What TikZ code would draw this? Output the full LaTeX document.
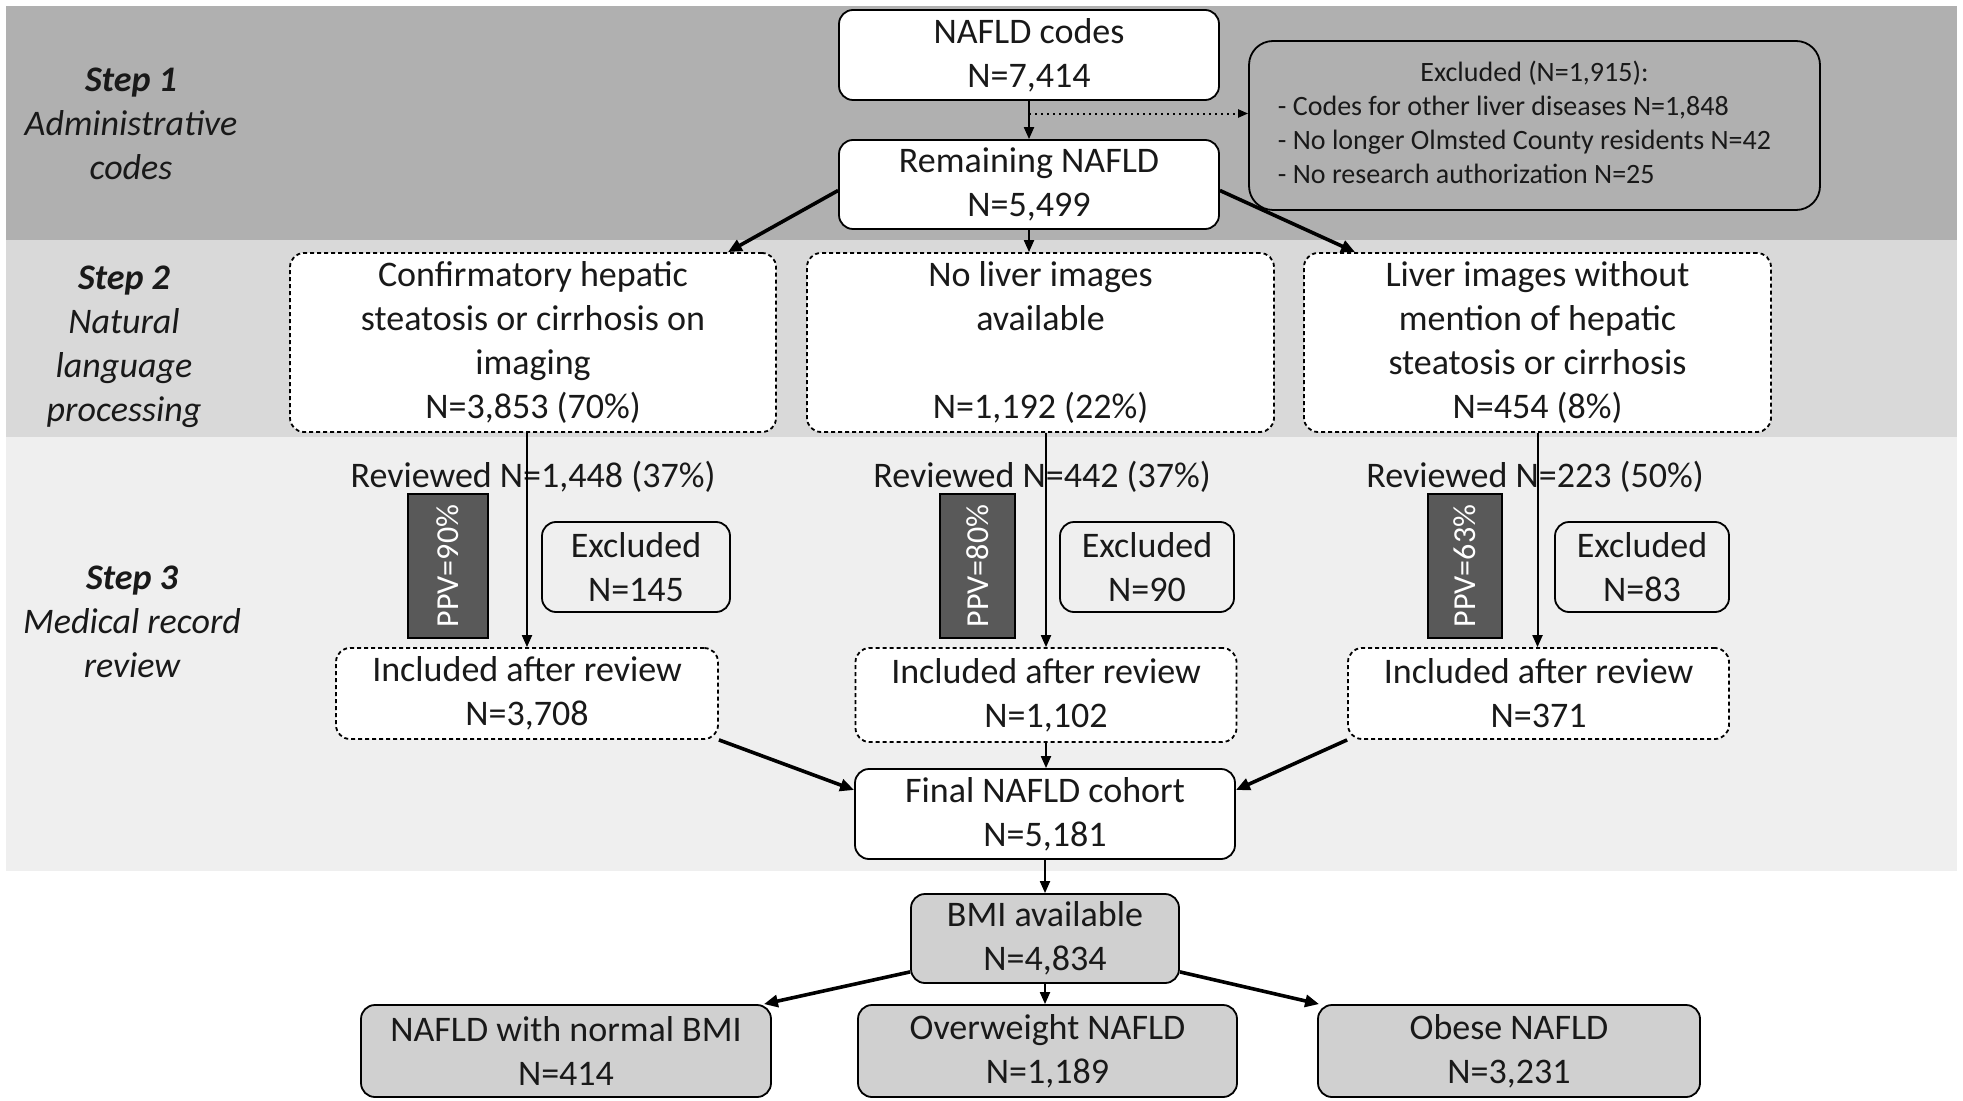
\documentclass[tikz,border=0pt]{standalone}
\usepackage{fontspec}
\setmainfont{Carlito}
\usetikzlibrary{arrows.meta,calc}
\definecolor{bandA}{RGB}{176,176,176}
\definecolor{bandB}{RGB}{217,217,217}
\definecolor{bandC}{RGB}{239,239,239}
\definecolor{boxgray}{RGB}{208,208,208}
\definecolor{ppvgray}{RGB}{89,89,89}
\definecolor{txt}{RGB}{25,25,25}
\begin{document}
\begin{tikzpicture}[x=0.5pt,y=-0.5pt,
  every node/.style={text=txt},
  base/.style={font=\fontsize{18}{22}\selectfont, align=center, inner sep=0pt, rounded corners=7pt, line width=0.9pt, draw=black},
  solidbox/.style={base, fill=white},
  dashbox/.style={base, fill=white, dash pattern=on 2pt off 1.5pt},
  graybox/.style={base, fill=boxgray},
  exbox/.style={base, fill=bandC},
  bigex/.style={base, fill=bandA, rounded corners=12pt, font=\fontsize{14}{17}\selectfont},
  ppvbox/.style={draw=black, line width=0.9pt, fill=ppvgray, inner sep=0pt, text=white, font=\fontsize{16}{19}\selectfont},
  plainlabel/.style={font=\fontsize{18}{22}\selectfont, inner sep=0pt},
  steplabel/.style={align=center, inner sep=0pt, font=\fontsize{18}{22}\selectfont\itshape},
  thinarrow/.style={line width=1pt, -{Triangle[length=6pt,width=5pt]}},
  thickarrow/.style={line width=1.8pt, -{Triangle[length=7pt,width=6pt]}},
]
\useasboundingbox (0,0) rectangle (1963,1101);
% bands
\fill[bandA] (6,6) rectangle (1957,240);
\fill[bandB] (6,240) rectangle (1957,437);
\fill[bandC] (6,437) rectangle (1957,871);

% step labels
\node[steplabel] (s1) at (131,124) {\textbf{Step 1}\\Administrative\\codes};
\node[steplabel] (s2) at (124,347) {\textbf{Step 2}\\Natural\\language\\processing};
\node[steplabel] (s3) at (132,622) {\textbf{Step 3}\\Medical record\\review};

% step 1
\node[solidbox, minimum width=190pt, minimum height=45pt] (codes) at (1029,55) {NAFLD codes\\N=7,414};
\node[solidbox, minimum width=190pt, minimum height=44.5pt] (rem) at (1029,184.5) {Remaining NAFLD\\N=5,499};
\node[bigex, minimum width=285.5pt, minimum height=84.5pt] (excl) at (1534.5,125.5)
  {\begin{tabular}{@{}l@{}}\multicolumn{1}{@{}c@{}}{Excluded (N=1,915):\hspace*{-10pt}}\\
   - Codes for other liver diseases N=1,848\\
   - No longer Olmsted County residents N=42\\
   - No research authorization N=25\end{tabular}\hspace*{10pt}};

% step 2
\node[dashbox, minimum width=243pt, minimum height=89.5pt] (conf) at (533,342.5)
  {Confirmatory hepatic\\steatosis or cirrhosis on\\imaging\\N=3,853 (70\%)};
\node[dashbox, minimum width=233.5pt, minimum height=89.5pt] (noimg) at (1040.5,342.5)
  {No liver images\\available\\[22pt]N=1,192 (22\%)};
\node[dashbox, minimum width=233.5pt, minimum height=89.5pt] (limg) at (1537.5,342.5)
  {Liver images without\\mention of hepatic\\steatosis or cirrhosis\\N=454 (8\%)};

% step 3
\node[plainlabel] (rev1) at (533,477) {Reviewed N=1,448 (37\%)};
\node[plainlabel] (rev2) at (1042,477) {Reviewed N=442 (37\%)};
\node[plainlabel] (rev3) at (1535,477) {Reviewed N=223 (50\%)};

\node[ppvbox, rotate=90, minimum width=72pt, minimum height=40pt] (ppv1) at (448,566) {PPV=90\%};
\node[ppvbox, rotate=90, minimum width=72pt, minimum height=37.5pt] (ppv2) at (977.5,566) {PPV=80\%};
\node[ppvbox, rotate=90, minimum width=72pt, minimum height=37pt] (ppv3) at (1465,566) {PPV=63\%};

\node[exbox, minimum width=94pt, minimum height=45pt] (ex1) at (636,567) {Excluded\\N=145};
\node[exbox, minimum width=87pt, minimum height=45pt] (ex2) at (1147,567) {Excluded\\N=90};
\node[exbox, minimum width=87pt, minimum height=45pt] (ex3) at (1642,567) {Excluded\\N=83};

\node[dashbox, minimum width=191pt, minimum height=45.5pt] (inc1) at (527,693.5) {Included after review\\N=3,708};
\node[dashbox, minimum width=190.5pt, minimum height=47pt] (inc2) at (1046,695) {Included after review\\N=1,102};
\node[dashbox, minimum width=190.5pt, minimum height=45.5pt] (inc3) at (1538.5,693.5) {Included after review\\N=371};

\node[solidbox, minimum width=190pt, minimum height=45pt] (fin) at (1045,814) {Final NAFLD cohort\\N=5,181};

% BMI
\node[graybox, minimum width=134pt, minimum height=44.5pt] (bmi) at (1045,938.5) {BMI available\\N=4,834};
\node[graybox, minimum width=205pt, minimum height=46pt] (nbmi) at (566,1051) {NAFLD with normal BMI\\N=414};
\node[graybox, minimum width=189.5pt, minimum height=46pt] (overw) at (1047.5,1051) {Overweight NAFLD\\N=1,189};
\node[graybox, minimum width=191pt, minimum height=46pt] (obese) at (1509,1051) {Obese NAFLD\\N=3,231};

% connectors
\draw[thinarrow] (codes.south) -- (rem.north);
\coordinate (split) at ($(codes.south)!0.33!(rem.north)$);
\draw[dotted, line width=1pt, -{Triangle[length=5pt,width=4pt]}] (split) -- (split -| excl.west);

\draw[thickarrow] ($(rem.west)+(0,6)$) -- ($(conf.north east)+(-49,0)$);
\draw[thinarrow] (rem.south) -- (rem.south |- noimg.north);
\draw[thickarrow] ($(rem.east)+(0,6)$) -- ($(limg.north west)+(52,0)$);

\draw[thinarrow] (conf.south -| inc1.north) -- (inc1.north);
\draw[thinarrow] (noimg.south -| inc2.north) -- (inc2.north);
\draw[thinarrow] (limg.south) -- (limg.south |- inc3.north);

\draw[thickarrow] (inc1.south east) -- ($(fin.west)+(0,-24)$);
\draw[thinarrow] (inc2.south) -- (inc2.south |- fin.north);
\draw[thickarrow] (inc3.south west) -- ($(fin.east)+(0,-24)$);

\draw[thinarrow] (fin.south) -- (fin.south |- bmi.north);
\draw[thickarrow] ($(bmi.south west)+(0,-12)$) -- ($(nbmi.north east)+(-8,0)$);
\draw[thinarrow] (bmi.south) -- (bmi.south |- overw.north);
\draw[thickarrow] ($(bmi.south east)+(0,-12)$) -- ($(obese.north west)+(2,0)$);
\end{tikzpicture}
\end{document}
